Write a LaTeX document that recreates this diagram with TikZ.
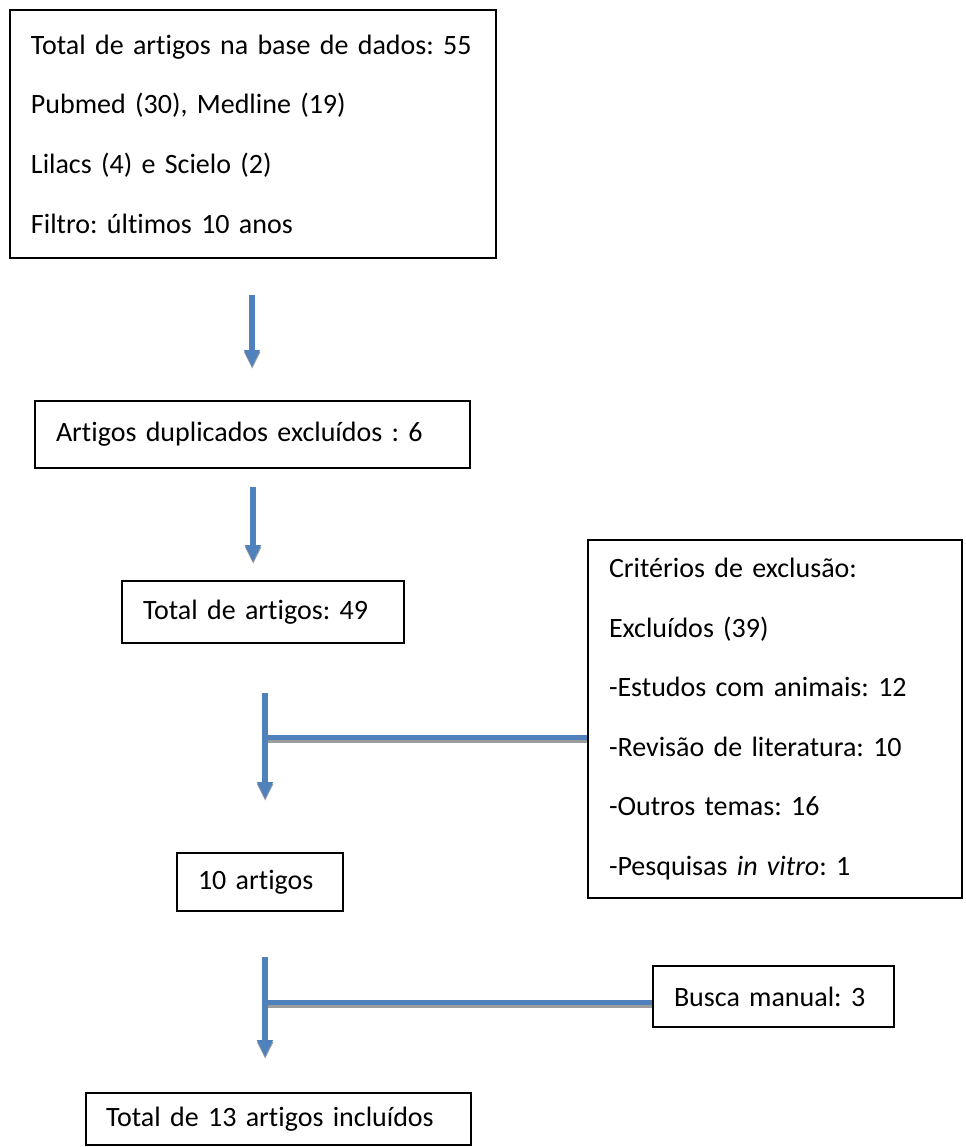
\documentclass[tikz,border=0pt]{standalone}
\usepackage{fontspec}
\setmainfont{Carlito}[Ligatures=NoCommon]
\usetikzlibrary{arrows.meta,calc}
\definecolor{azul}{HTML}{4F81BD}
\definecolor{sombra}{HTML}{9C9C9C}

\begin{document}
\begin{tikzpicture}[x=0.5pt,y=-0.5pt]
\tikzstyle{every node}+=[font=\fontsize{14}{29.8}\selectfont\frenchspacing]
\tikzstyle{caixa}=[draw, line width=1pt, inner xsep=10.5pt, inner ysep=0pt, align=left]
\tikzstyle{seta}=[draw=azul, line width=3pt, -{Triangle[width=7.5pt,length=8.5pt]}]
\tikzstyle{ramo}=[draw=azul, line width=2.5pt]
\tikzstyle{sombra seta}=[seta, draw=sombra, fill=sombra, transform canvas={shift={(0.1pt,-1pt)}}]
\tikzstyle{sombra ramo}=[ramo, draw=sombra, transform canvas={yshift=-1.5pt}]
\useasboundingbox (0,0) rectangle (965,1147);
% caixas
\node[caixa, text width=222pt, minimum height=124pt] (db) at (253,134) {\mbox{Total de artigos na base de dados: 55}\\Pubmed (30), Medline (19)\\Lilacs (4) e Scielo (2)\\Filtro: últimos 10 anos};
\node[caixa, text width=196.5pt, minimum height=33.5pt] (dup) at (252.5,434.5) {\mbox{Artigos duplicados excluídos : 6}};
\node[caixa, text width=120pt, minimum height=31pt] (t49) at (263,612) {\mbox{Total de artigos: 49}};
\node[caixa, text width=166pt, minimum height=179pt] (crit) at (775,719) {Critérios de exclusão:\\Excluídos (39)\\-Estudos com animais: 12\\-Revisão de literatura: 10\\-Outros temas: 16\\-Pesquisas \textit{in vitro}: 1};
\node[caixa, text width=62pt, minimum height=29pt] (a10) at (260,882) {\mbox{10 artigos}};
\node[caixa, text width=99.5pt, minimum height=30.5pt] (busca) at (773.5,996.5) {\mbox{Busca manual: 3}};
\node[caixa, text width=172.5pt, minimum height=26pt, inner xsep=10pt] (final) at (278.5,1119) {\mbox{Total de 13 artigos incluídos}};
% juncoes
\coordinate (j1) at (265,737);
\coordinate (j2) at (265,1002);
% setas
\draw[sombra seta] ($(db.south)+(-1,36)$) -- ($(dup.north)+(-0.5,-33)$);
\draw[seta] ($(db.south)+(-1,36)$) -- ($(dup.north)+(-0.5,-33)$);
\draw[sombra seta] ($(dup.south)+(0.5,18)$) -- ($(dup.south |- t49.north)+(0.5,-18)$);
\draw[seta] ($(dup.south)+(0.5,18)$) -- ($(dup.south |- t49.north)+(0.5,-18)$);
\draw[sombra ramo] (crit.west |- j1) -- (j1);
\draw[ramo] (crit.west |- j1) -- (j1);
\draw[sombra seta] ($(j1 |- t49.south)+(0,49)$) -- ($(j1 |- a10.north)+(0,-53)$);
\draw[seta] ($(j1 |- t49.south)+(0,49)$) -- ($(j1 |- a10.north)+(0,-53)$);
\draw[sombra ramo] (busca.west |- j2) -- (j2);
\draw[ramo] (busca.west |- j2) -- (j2);
\draw[sombra seta] ($(j2 |- a10.south)+(0,45)$) -- ($(j2 |- final.north)+(0,-35)$);
\draw[seta] ($(j2 |- a10.south)+(0,45)$) -- ($(j2 |- final.north)+(0,-35)$);
\end{tikzpicture}
\end{document}
